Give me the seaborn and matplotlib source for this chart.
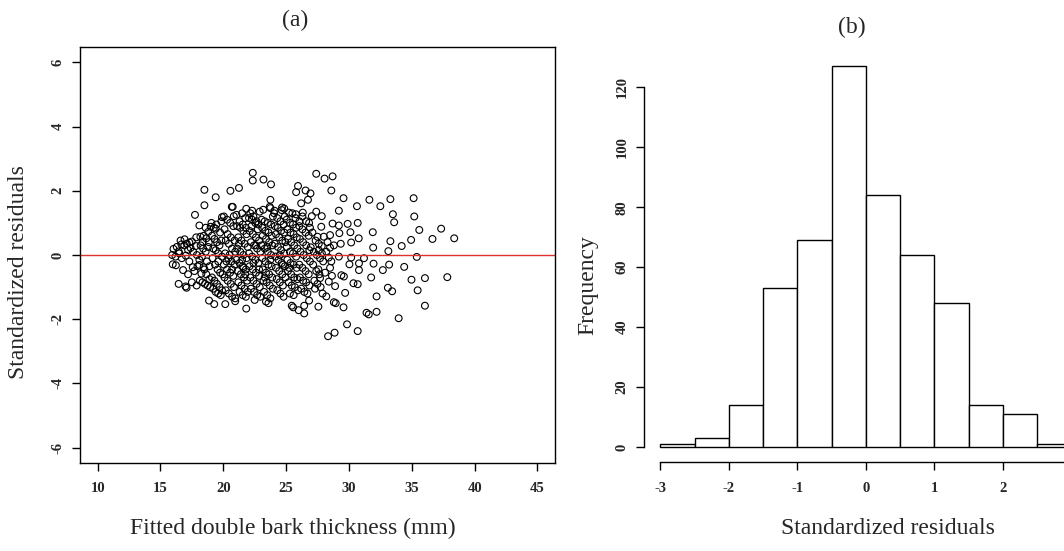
import numpy as np
import pandas as pd
import seaborn as sns
import matplotlib.pyplot as plt

sns.set_style("white")
plt.rcParams['font.family'] = ['Liberation Serif', 'DejaVu Serif']
plt.rcParams['axes.unicode_minus'] = False

# (a) fitted values vs standardized residuals
fitted = [
    22.35, 22.35, 23.2, 23.8, 18.5, 20.57, 21.25, 19.4, 18.5, 17.75, 18.1,
    27.4, 28.06, 28.7, 28.6, 29.57, 25.95, 25.8, 26.55, 26.94, 26.74, 26.2, 23.75,
    30.64, 31.63, 32.5, 33.3, 35.15, 33.5, 33.6, 35.2, 35.6, 37.34, 36.65, 38.38,
    34.95, 34.2, 33.3, 33.14, 31.9, 31.93, 30.7, 29.9, 29.2, 28.7, 29.2, 30.12,
    30.78, 30.18,
    35.4, 33.2, 34.4, 32.7, 31.96, 31.2, 30.8, 30.8, 34.98, 36.05, 37.83, 35.47,
    33.44, 33.1, 32.2, 36.05, 33.96, 32.2, 31.4, 31.58, 29.85, 30.7, 28.86, 28.34,
    29.57, 29.7, 28.9, 28.4, 27.57, 26.44, 26.44, 26.0, 25.45, 25.56, 27.9, 28.2,
    28.8, 28.95, 26.83, 30.7, 30.36, 29.6, 29.4, 30.04, 30.18, 31.77, 27.7, 27.57,
    28.5, 28.4, 29.2, 27.84, 28.5, 28.0, 28.5, 27.5, 27.8, 27.84, 27.4, 27.05,
    26.83, 29.24, 29.35, 26.96,
    15.93, 16.04, 15.98, 16.23, 16.45, 17.08, 17.0, 16.8, 17.02, 16.67, 16.92, 16.45,
    17.2, 17.3, 17.57, 17.82, 17.88, 18.13, 18.26, 18.1, 18.43, 18.37, 18.18, 18.65,
    18.8, 19.0, 19.4, 19.06, 18.87, 19.28, 20.16, 20.95, 21.83, 20.68, 19.9, 20.84,
    21.83, 22.3, 23.18, 23.75, 24.08, 24.68, 24.85, 25.23, 26.33, 25.78, 26.06,
    16.3, 16.5, 16.7, 16.2, 16.9, 16.6,
    17.1, 17.4, 17.6, 17.5, 17.9, 17.3, 17.7, 17.95, 17.2, 17.85, 17.5,
    18.2, 18.4, 18.6, 18.3, 18.7, 18.5, 18.9, 18.35, 18.55, 18.75, 18.95, 18.6,
    18.85, 18.45, 18.65, 18.9, 18.1, 18.8,
    19.1, 19.3, 19.5, 19.7, 19.2, 19.4, 19.6, 19.9, 19.15, 19.35, 19.55, 19.75,
    19.95, 19.1, 19.3, 19.5, 19.7, 19.9, 19.2, 19.4, 19.6, 19.8, 19.45, 19.75,
    19.25, 19.85, 19.6, 19.85,
    20.05, 20.3, 20.55, 20.8, 20.1, 20.35, 20.6, 20.9, 20.2, 20.45, 20.7, 20.95,
    20.15, 20.4, 20.65, 20.9, 20.05, 20.3, 20.55, 20.8, 20.1, 20.35, 20.6, 20.85,
    20.2, 20.45, 20.7, 20.95, 20.75, 20.5, 20.25, 20.7,
    21.05, 21.3, 21.55, 21.8, 21.1, 21.35, 21.6, 21.85, 21.2, 21.45, 21.7, 21.95,
    21.1, 21.35, 21.6, 21.85, 21.05, 21.3, 21.55, 21.8, 21.15, 21.4, 21.65, 21.9,
    21.2, 21.45, 21.7, 21.95, 21.3, 21.55, 21.8, 21.5, 21.75, 21.25, 21.5, 21.75,
    21.6,
    22.05, 22.3, 22.55, 22.8, 22.15, 22.4, 22.65, 22.9, 22.1, 22.35, 22.6, 22.85,
    22.2, 22.45, 22.7, 22.95, 22.05, 22.3, 22.55, 22.8, 22.1, 22.35, 22.6, 22.85,
    22.15, 22.4, 22.65, 22.9, 22.2, 22.45, 22.7, 22.95, 22.5, 22.75, 22.25, 22.6,
    22.4, 22.85,
    23.05, 23.3, 23.55, 23.8, 23.1, 23.35, 23.6, 23.85, 23.15, 23.4, 23.65, 23.9,
    23.05, 23.3, 23.55, 23.8, 23.1, 23.35, 23.6, 23.85, 23.15, 23.4, 23.65, 23.9,
    23.2, 23.45, 23.7, 23.95, 23.25, 23.5, 23.75, 23.4, 23.6, 23.7, 23.95, 23.5,
    23.75, 23.3,
    24.05, 24.3, 24.55, 24.8, 24.1, 24.35, 24.6, 24.85, 24.2, 24.45, 24.7, 24.95,
    24.1, 24.35, 24.6, 24.85, 24.15, 24.4, 24.65, 24.9, 24.2, 24.45, 24.7, 24.95,
    24.25, 24.5, 24.75, 24.3, 24.55, 24.8, 24.65, 24.9, 24.5, 24.75,
    25.05, 25.3, 25.55, 25.8, 25.1, 25.35, 25.6, 25.85, 25.15, 25.4, 25.65, 25.9,
    25.05, 25.3, 25.55, 25.8, 25.1, 25.35, 25.6, 25.85, 25.15, 25.4, 25.65, 25.9,
    25.2, 25.45, 25.7, 25.95, 25.3, 25.6, 25.5, 25.75, 25.25,
    26.05, 26.3, 26.55, 26.8, 26.1, 26.35, 26.6, 26.85, 26.15, 26.4, 26.65, 26.9,
    26.05, 26.3, 26.55, 26.8, 26.1, 26.35, 26.6, 26.85, 26.2, 26.45, 26.7, 26.3,
    26.6, 26.9,
    27.1, 27.35, 27.6, 27.2, 27.45, 27.7, 27.95, 27.15, 27.4, 27.65, 27.25, 27.5,
    27.75, 27.3, 27.6, 27.85,
    28.2, 28.6, 28.1, 28.65, 28.3, 28.8,
]
resid = [
    2.56, 2.32, 2.35, 2.2, 2.03, 2.0, 2.09, 1.8, 1.55, 1.25, 0.92,
    2.53, 2.38, 2.45, 2.01, 1.77, 2.15, 1.96, 2.01, 1.92, 1.72, 1.61, 1.72,
    1.52, 1.72, 1.52, 1.74, 1.77, 1.27, 1.02, 1.2, 0.78, 0.82, 0.5, 0.52,
    0.47, 0.28, 0.43, 0.12, 0.71, 0.23, 1.0, 0.97, 0.92, 0.98, 1.38, 0.71,
    0.52, 0.39,
    -0.06, -0.3, -0.37, -0.47, -0.27, -0.1, -0.47, -0.26, -0.77, -0.72, -0.69, -1.1,
    -1.13, -1.02, -1.29, -1.58, -1.97, -1.77, -1.8, -1.85, -2.16, -2.37, -2.42, -2.53,
    -1.63, -1.18, -0.97, -0.83, -1.61, -1.82, -1.58, -1.72, -1.58, -1.63, -1.2, -1.29,
    -1.47, -1.5, -1.42, -0.91, -0.88, -0.67, -0.63, -0.29, -0.08, -0.7, -0.72, -0.45,
    -0.4, -0.08, -0.05, 0.28, 0.23, 0.57, 0.62, 0.57, 0.88, 1.21, 1.35, 1.21,
    1.0, 0.68, 0.35, 0.24,
    0.0, 0.19, -0.29, -0.32, -0.9, -1.02, -0.98, -0.47, -0.02, 0.33, 0.49, 0.11,
    0.16, 0.39, -0.38, 0.28, -0.95, -0.8, -0.58, -0.31, -0.38, 0.41, 0.57, 0.52,
    0.72, 0.88, 0.82, 1.0, -1.42, -1.53, -1.53, -1.44, -1.67, 1.5, 1.18, 1.21,
    1.44, 1.38, 1.41, 1.46, 1.38, 1.48, 1.45, 1.32, 1.32, 1.27, 1.05,
    0.25, 0.05, -0.1, -0.05, 0.3, 0.45,
    0.35, 0.22, 0.1, 0.42, 0.0, -0.2, -0.5, -0.35, -0.6, 0.55, -0.85,
    0.3, 0.2, 0.1, -0.05, -0.2, -0.45, -0.35, -0.85, -0.9, -0.95, -1.0, 0.85,
    0.4, 0.6, -0.6, -0.75, -0.15, 0.25,
    0.6, 0.5, 0.4, 0.3, 0.2, 0.15, 0.05, -0.05, -0.1, -0.3, -0.45, -0.55,
    -0.6, -0.7, -0.8, -0.9, -1.0, -1.1, -1.05, -1.15, -1.2, -1.25, 0.95, 0.7,
    0.85, 1.05, -0.2, 0.45,
    1.2, 1.1, 1.0, 0.9, 0.8, 0.65, 0.55, 0.45, 0.45, 0.35, 0.2, 0.1,
    0.05, -0.1, -0.2, -0.3, -0.3, -0.45, -0.55, -0.65, -0.7, -0.8, -0.9, -1.0,
    -1.1, -1.2, -1.3, -1.35, 1.5, 0.0, -0.2, -0.45,
    1.25, 1.05, 0.95, 0.85, 0.9, 0.85, 0.75, 0.65, 0.55, 0.45, 0.35, 0.25,
    0.2, 0.1, 0.0, -0.1, -0.15, -0.25, -0.35, -0.45, -0.5, -0.6, -0.7, -0.8,
    -0.85, -0.95, -1.05, -1.15, -1.15, -1.25, -1.3, 1.3, 1.15, 0.35, -0.15, -0.6,
    -0.4,
    1.15, 1.1, 1.0, 0.95, 1.3, 1.2, 1.05, 1.35, 0.75, 0.65, 0.55, 0.45,
    0.4, 0.3, 0.2, 0.1, 0.05, -0.05, -0.15, -0.25, -0.35, -0.45, -0.55, -0.65,
    -0.7, -0.8, -0.9, -1.0, -1.05, -1.15, -1.25, -1.3, -1.4, 0.8, 0.9, 0.3,
    -0.25, -0.45,
    1.1, 1.05, 1.0, 0.95, 0.85, 0.75, 0.7, 0.6, 0.6, 0.5, 0.4, 0.3,
    0.3, 0.2, 0.1, 0.0, -0.1, -0.2, -0.3, -0.35, -0.45, -0.55, -0.6, -0.7,
    -0.8, -0.85, -0.95, -1.05, -1.15, -1.25, -1.35, -1.45, -1.5, 1.5, 1.2, 0.25,
    -0.15, -0.7,
    1.3, 1.15, 1.05, 0.95, 0.9, 0.85, 0.75, 0.7, 0.65, 0.55, 0.45, 0.4,
    0.35, 0.25, 0.15, 0.05, -0.05, -0.15, -0.25, -0.35, -0.4, -0.5, -0.6, -0.7,
    -0.75, -0.85, -0.95, -1.1, -1.2, -1.3, 1.4, 1.2, 0.0, -0.3,
    1.1, 1.0, 0.95, 0.85, 0.8, 0.7, 0.65, 0.55, 0.5, 0.4, 0.3, 0.2,
    0.25, 0.1, 0.05, -0.05, -0.15, -0.25, -0.3, -0.4, -0.5, -0.6, -0.7, -0.75,
    -0.85, -0.95, -1.0, -1.1, -1.2, -1.25, 1.3, 1.15, -0.4,
    0.9, 0.8, 0.7, 0.6, 0.5, 0.4, 0.3, 0.15, 0.1, 0.0, -0.1, -0.2,
    -0.3, -0.4, -0.5, -0.6, -0.7, -0.8, -0.85, -0.95, -1.05, -1.15, -1.2, 1.2,
    1.05, 0.85,
    0.7, 0.45, 0.35, 0.1, 0.0, -0.1, -0.2, -0.3, -0.5, -0.6, -0.8, -0.9,
    -1.0, -1.05, 0.15, 0.05,
    0.1, -0.2, -0.55, -0.65, 0.4, 0.3,
]

# (b) histogram of standardized residuals (bin counts)
bin_edges = [-3, -2.5, -2, -1.5, -1, -0.5, 0, 0.5, 1, 1.5, 2, 2.5, 3]
bin_counts = [1, 3, 14, 53, 69, 127, 84, 64, 48, 14, 11, 1]

df = pd.DataFrame({"fitted": fitted, "resid": resid})
bin_mids = [(a + b) / 2 for a, b in zip(bin_edges[:-1], bin_edges[1:])]

fig = plt.figure(figsize=(10.64, 5.51), dpi=100)
ax1 = fig.add_axes([0.0752, 0.1597, 0.4464, 0.755])
ax2 = fig.add_axes([0.6052, 0.1612, 0.4173, 0.746])

sns.scatterplot(data=df, x="fitted", y="resid", ax=ax1, marker="o", s=24,
                facecolor="none", edgecolor="black", linewidth=0.8)
ax1.axhline(0, color="#e03030", lw=1)
ax1.set_xlim(8.6, 46.4)
ax1.set_ylim(-6.48, 6.48)
ax1.set_xticks(range(10, 50, 5))
ax1.set_yticks(range(-6, 8, 2))
for s in ax1.spines.values():
    s.set_color("black")
    s.set_linewidth(1)
ax1.set_xlabel("Fitted double bark thickness (mm)", fontsize=17)
ax1.set_ylabel("Standardized residuals", fontsize=17)
ax1.xaxis.set_label_coords(0.448, -0.132)
ax1.yaxis.set_label_coords(-0.107, 0.46)

sns.histplot(x=bin_mids, weights=bin_counts, bins=bin_edges, ax=ax2,
             color="white", edgecolor="black", linewidth=1, alpha=1)
ax2.set_xlim(-3.24, 3.24)
ax2.set_ylim(-5.08, 132.08)
ax2.set_xticks(range(-3, 3))
ax2.set_yticks(range(0, 140, 20))
sns.despine(ax=ax2)
ax2.spines["left"].set_bounds(0, 120)
ax2.spines["bottom"].set_bounds(-3, 3)
for s in ax2.spines.values():
    s.set_color("black")
    s.set_linewidth(1)
ax2.set_xlabel("Standardized residuals", fontsize=17)
ax2.set_ylabel("Frequency", fontsize=17)
ax2.xaxis.set_label_coords(0.55, -0.135)
ax2.yaxis.set_label_coords(-0.102, 0.43)

for ax in (ax1, ax2):
    ax.tick_params(axis="both", direction="out", length=6, width=1, color="black",
                   labelsize=10.5, bottom=True, left=True)
    ax.tick_params(axis="x", pad=8)
    ax.tick_params(axis="y", labelrotation=90, pad=5)
    for lab in ax.get_xticklabels() + ax.get_yticklabels():
        lab.set_fontweight("bold")
    for lab in ax.get_yticklabels():
        lab.set_va("center")

fig.text(0.277, 0.962, "(a)", ha="center", va="center", fontsize=17)
fig.text(0.801, 0.95, "(b)", ha="center", va="center", fontsize=17)

fig.savefig("out.png", dpi=100)
